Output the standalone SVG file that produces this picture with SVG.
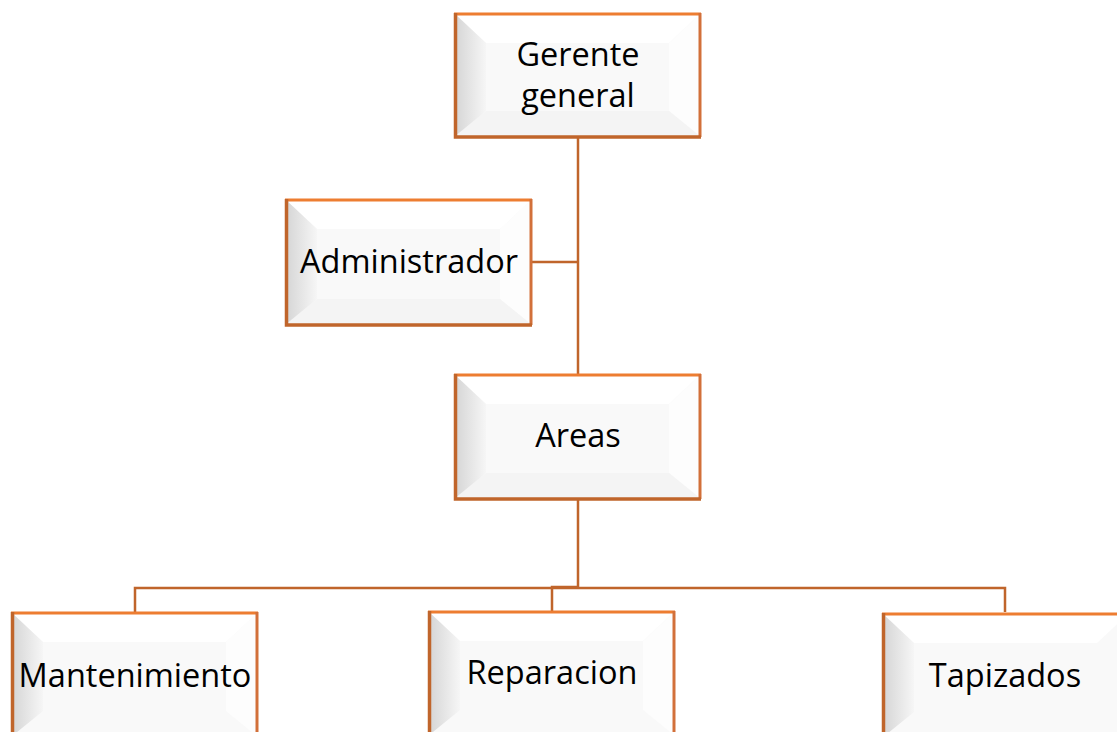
<svg xmlns="http://www.w3.org/2000/svg" width="1117" height="732" viewBox="0 0 1117 732">
  <style>
    .face{fill:#f9f9f9}
    .btop{fill:#ffffff}
    .bright{fill:#fdfdfd}
    .bbot{fill:#f4f4f4}
    .bleft{fill:url(#gl)}
    .edgeL{stroke:#c0652b;stroke-width:3.5;fill:none}
    .edgeT{stroke:#ed7d31;stroke-width:3;fill:none}
    .edgeR{stroke:#d2703a;stroke-width:3;fill:none}
    .lbl{font-family:"Open Sans","Liberation Sans",sans-serif;font-size:32.5px;fill:#000;text-anchor:middle}
    .conn{stroke:#c0652b;stroke-width:2.5;fill:none}
  </style>
  <defs>
    <linearGradient id="gl" x1="0" y1="0" x2="1" y2="0">
      <stop offset="0" stop-color="#d4d4d4"/>
      <stop offset="1" stop-color="#f6f6f6"/>
    </linearGradient>
  </defs>
  <rect width="1117" height="732" fill="#ffffff"/>

  <g id="connectors">
    <path class="conn" d="M578 137 V374"/>
    <path class="conn" d="M532 262 H578"/>
    <path class="conn" d="M578 499 V587 H552 V611"/>
    <path class="conn" d="M135 612 V588 H1005 V612"/>
  </g>

  <g id="gerente">
    <rect class="face" x="454" y="13" width="247" height="124"/>
    <polygon class="btop" points="454,13 701,13 669,43 486,43"/>
    <polygon class="bright" points="701,13 701,137 669,111 669,43"/>
    <polygon class="bbot" points="454,137 701,137 669,111 486,111"/>
    <polygon class="bleft" points="454,13 486,43 486,111 454,137"/>
    <path class="edgeT" d="M454 14 H701"/>
    <path class="edgeR" d="M700 13 V137"/>
    <path class="edgeL" d="M455.5 13 V137 H701"/>
    <text class="lbl" x="578" y="66">Gerente</text>
    <text class="lbl" x="578" y="107">general</text>
  </g>

  <g id="administrador">
    <rect class="face" x="285" y="199" width="247" height="126"/>
    <polygon class="btop" points="285,199 532,199 500,229 317,229"/>
    <polygon class="bright" points="532,199 532,325 500,299 500,229"/>
    <polygon class="bbot" points="285,325 532,325 500,299 317,299"/>
    <polygon class="bleft" points="285,199 317,229 317,299 285,325"/>
    <path class="edgeT" d="M285 200 H532"/>
    <path class="edgeR" d="M531 199 V325"/>
    <path class="edgeL" d="M286.5 199 V325 H532"/>
    <text class="lbl" x="409" y="273">Administrador</text>
  </g>

  <g id="areas">
    <rect class="face" x="454" y="374" width="247" height="125"/>
    <polygon class="btop" points="454,374 701,374 669,404 486,404"/>
    <polygon class="bright" points="701,374 701,499 669,473 669,404"/>
    <polygon class="bbot" points="454,499 701,499 669,473 486,473"/>
    <polygon class="bleft" points="454,374 486,404 486,473 454,499"/>
    <path class="edgeT" d="M454 375 H701"/>
    <path class="edgeR" d="M700 374 V499"/>
    <path class="edgeL" d="M455.5 374 V499 H701"/>
    <text class="lbl" x="578" y="447">Areas</text>
  </g>

  <g id="mantenimiento">
    <rect class="face" x="11" y="612" width="247" height="125"/>
    <polygon class="btop" points="11,612 258,612 226,642 43,642"/>
    <polygon class="bright" points="258,612 258,737 226,711 226,642"/>
    <polygon class="bleft" points="11,612 43,642 43,711 11,737"/>
    <path class="edgeT" d="M11 613 H258"/>
    <path class="edgeR" d="M257 612 V737"/>
    <path class="edgeL" d="M12.5 612 V737"/>
    <text class="lbl" x="135" y="687">Mantenimiento</text>
  </g>

  <g id="reparacion">
    <rect class="face" x="428" y="611" width="247" height="125"/>
    <polygon class="btop" points="428,611 675,611 643,641 460,641"/>
    <polygon class="bright" points="675,611 675,736 643,710 643,641"/>
    <polygon class="bleft" points="428,611 460,641 460,710 428,736"/>
    <path class="edgeT" d="M428 612 H675"/>
    <path class="edgeR" d="M674 611 V736"/>
    <path class="edgeL" d="M429.5 611 V736"/>
    <text class="lbl" x="552" y="684">Reparacion</text>
  </g>

  <g id="tapizados">
    <rect class="face" x="882" y="613" width="247" height="125"/>
    <polygon class="btop" points="882,613 1129,613 1097,643 914,643"/>
    <polygon class="bleft" points="882,613 914,643 914,712 882,738"/>
    <path class="edgeT" d="M882 614 H1129"/>
    <path class="edgeL" d="M883.5 613 V738"/>
    <text class="lbl" x="1005" y="687">Tapizados</text>
  </g>
</svg>
